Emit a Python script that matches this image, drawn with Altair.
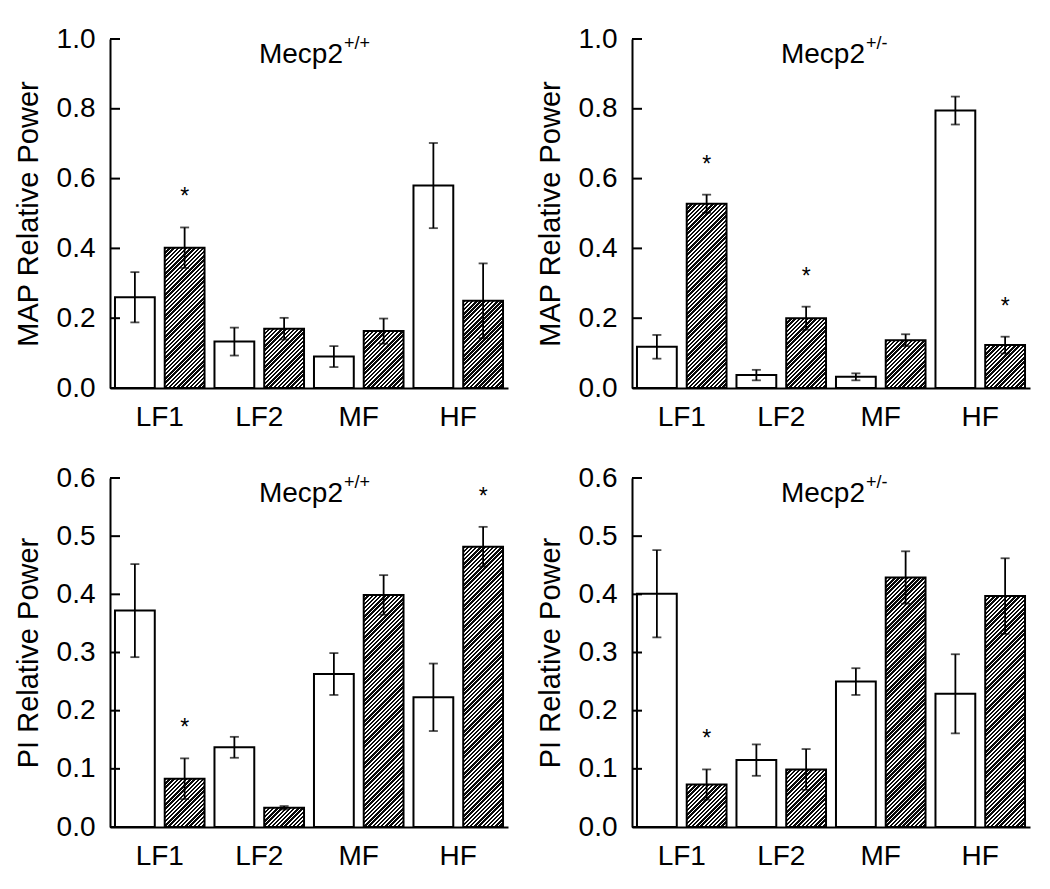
import altair as alt
import pandas as pd

# ---------------- data ----------------
categories = ["LF1", "LF2", "MF", "HF"]
groups = ["open", "hatched"]

# MAP relative power, Mecp2 +/+
map_wt_open_mean = [0.26, 0.133, 0.09, 0.58]
map_wt_open_err = [0.072, 0.040, 0.030, 0.122]
map_wt_hatch_mean = [0.402, 0.170, 0.163, 0.250]
map_wt_hatch_err = [0.058, 0.031, 0.036, 0.107]
map_wt_sig = [1, 0, 0, 0]

# MAP relative power, Mecp2 +/-
map_het_open_mean = [0.118, 0.037, 0.032, 0.795]
map_het_open_err = [0.034, 0.015, 0.010, 0.040]
map_het_hatch_mean = [0.528, 0.200, 0.137, 0.123]
map_het_hatch_err = [0.026, 0.033, 0.017, 0.024]
map_het_sig = [1, 1, 0, 1]

# PI relative power, Mecp2 +/+
pi_wt_open_mean = [0.372, 0.137, 0.263, 0.223]
pi_wt_open_err = [0.080, 0.018, 0.036, 0.058]
pi_wt_hatch_mean = [0.083, 0.033, 0.399, 0.482]
pi_wt_hatch_err = [0.035, 0.003, 0.034, 0.034]
pi_wt_sig = [1, 0, 0, 1]

# PI relative power, Mecp2 +/-
pi_het_open_mean = [0.401, 0.115, 0.250, 0.229]
pi_het_open_err = [0.075, 0.027, 0.023, 0.068]
pi_het_hatch_mean = [0.073, 0.099, 0.429, 0.397]
pi_het_hatch_err = [0.026, 0.035, 0.045, 0.065]
pi_het_sig = [1, 0, 0, 0]

map_ticks = [0.0, 0.2, 0.4, 0.6, 0.8, 1.0]
pi_ticks = [0.0, 0.1, 0.2, 0.3, 0.4, 0.5, 0.6]
genotypes = ["+/+", "+/-"]
gene_name = "Mecp2"

# ---------------- style ----------------
FONT = "Liberation Sans"
PLOT_W = 398
PLOT_H = 349
X_PAD_INNER = 0.1
X_PAD_OUTER = 0.05
OFF_PAD_INNER = 0.2

_step = PLOT_W / (len(categories) - X_PAD_INNER + 2 * X_PAD_OUTER)
_band = _step * (1 - X_PAD_INNER)
BAR_W = _band / (len(groups) - OFF_PAD_INNER) * (1 - OFF_PAD_INNER)


def hatch_fill(w, h, period=4.2, dark=0.58):
    """Diagonal '/' hatch as a linear gradient in bounding-box units."""
    h = max(h, 1.0)
    L = w + h
    n = int(L / period) + 1
    stops = []
    for i in range(n):
        a = min(i * period / L, 1.0)
        b = min((i + dark) * period / L, 1.0)
        c = min((i + 1) * period / L, 1.0)
        stops += [
            {"offset": a, "color": "#0a0a0a"},
            {"offset": b, "color": "#0a0a0a"},
            {"offset": b, "color": "#ffffff"},
            {"offset": c, "color": "#ffffff"},
        ]
    m = L / (w * w + h * h)
    return {"gradient": "linear", "x1": 0, "y1": 0, "x2": m * w, "y2": m * h,
            "stops": stops}


def panel(open_mean, open_err, hatch_mean, hatch_err, sig, ymax, yticks, ytitle, genotype):
    rows = []
    for i, c in enumerate(categories):
        rows.append(dict(cat=c, grp="open", mean=open_mean[i],
                         lo=open_mean[i] - open_err[i], hi=open_mean[i] + open_err[i], sig=0))
        rows.append(dict(cat=c, grp="hatched", mean=hatch_mean[i],
                         lo=hatch_mean[i] - hatch_err[i], hi=hatch_mean[i] + hatch_err[i], sig=sig[i]))
    df = pd.DataFrame(rows)

    x_enc = alt.X("cat:N",
                  scale=alt.Scale(domain=categories, paddingInner=X_PAD_INNER, paddingOuter=X_PAD_OUTER),
                  axis=alt.Axis(title=None, labelAngle=0, ticks=False, labelPadding=15,
                                domain=True))
    off_enc = alt.XOffset("grp:N", scale=alt.Scale(domain=groups, paddingInner=OFF_PAD_INNER,
                                                    paddingOuter=0))
    y_scale = alt.Scale(domain=[0, ymax], nice=False, zero=True)
    y_axis = alt.Axis(title=ytitle, values=yticks, format=".1f", ticks=False, grid=False,
                      labelPadding=15, titlePadding=13, domain=True)

    def Y(field):
        return alt.Y(field, scale=y_scale, axis=y_axis)

    layers = []
    # open bars
    layers.append(
        alt.Chart(df[df.grp == "open"]).mark_bar(fill="white", stroke="black", strokeWidth=2)
        .encode(x=x_enc, xOffset=off_enc, y=Y("mean:Q"))
    )
    # hatched bars, one layer each (gradient sized to the bar)
    for i, c in enumerate(categories):
        hpx = hatch_mean[i] / ymax * PLOT_H
        sub = df[(df.grp == "hatched") & (df.cat == c)]
        layers.append(
            alt.Chart(sub).mark_bar(fill=hatch_fill(BAR_W, hpx), stroke="black", strokeWidth=2)
            .encode(x=x_enc, xOffset=off_enc, y=Y("mean:Q"))
        )
    # error bars
    layers.append(
        alt.Chart(df).mark_rule(color="black", strokeWidth=1.8)
        .encode(x=x_enc, xOffset=off_enc, y=Y("lo:Q"), y2="hi:Q")
    )
    for f in ["lo:Q", "hi:Q"]:
        layers.append(
            alt.Chart(df).mark_tick(color="black", orient="horizontal", size=9, thickness=1.8)
            .encode(x=x_enc, xOffset=off_enc, y=Y(f))
        )
    # significance stars
    layers.append(
        alt.Chart(df[df.sig == 1]).mark_text(text="*", fontSize=23, font=FONT, dy=-30,
                                             baseline="middle", color="black")
        .encode(x=x_enc, xOffset=off_enc, y=Y("hi:Q"))
    )
    # inward y ticks
    layers.append(
        alt.Chart(pd.DataFrame({"t": yticks})).mark_rule(color="black", strokeWidth=2)
        .encode(y=Y("t:Q"), x=alt.value(0), x2=alt.value(10))
    )
    # panel title: gene name + superscript genotype
    layers.append(
        alt.Chart(pd.DataFrame({"lab": [gene_name]})).mark_text(
            font=FONT, fontSize=28, align="right", baseline="alphabetic", color="black")
        .encode(text="lab:N", x=alt.value(233), y=alt.value(24))
    )
    layers.append(
        alt.Chart(pd.DataFrame({"lab": [genotype]})).mark_text(
            font=FONT, fontSize=18, align="left", baseline="alphabetic", color="black")
        .encode(text="lab:N", x=alt.value(234), y=alt.value(10))
    )
    return alt.layer(*layers).properties(width=PLOT_W, height=PLOT_H)


p1 = panel(map_wt_open_mean, map_wt_open_err, map_wt_hatch_mean, map_wt_hatch_err, map_wt_sig,
           1.0, map_ticks, "MAP Relative Power", genotypes[0])
p2 = panel(map_het_open_mean, map_het_open_err, map_het_hatch_mean, map_het_hatch_err, map_het_sig,
           1.0, map_ticks, "MAP Relative Power", genotypes[1])
p3 = panel(pi_wt_open_mean, pi_wt_open_err, pi_wt_hatch_mean, pi_wt_hatch_err, pi_wt_sig,
           0.6, pi_ticks, "PI Relative Power", genotypes[0])
p4 = panel(pi_het_open_mean, pi_het_open_err, pi_het_hatch_mean, pi_het_hatch_err, pi_het_sig,
           0.6, pi_ticks, "PI Relative Power", genotypes[1])

chart = (
    alt.concat(p1, p2, p3, p4, columns=2, spacing={"row": 90, "column": 124}, bounds="flush")
    .properties(padding={"left": 6, "top": 17, "right": 5, "bottom": 5}, background="white")
    .configure_view(stroke=None)
    .configure_axis(
        labelFont=FONT, titleFont=FONT, labelFontSize=28, titleFontSize=29,
        titleFontWeight="normal", labelColor="black", titleColor="black",
        domainColor="black", domainWidth=2,
    )
)

chart.save("out.html", embed_options={"renderer": "svg", "actions": False})
